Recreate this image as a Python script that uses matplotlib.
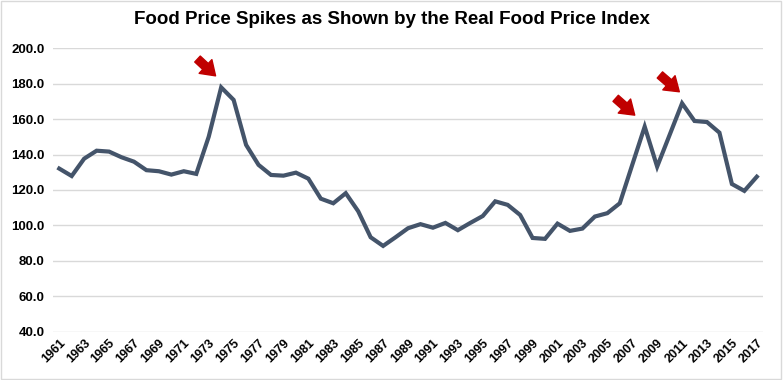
import numpy as np
import matplotlib.pyplot as plt
from matplotlib.patches import Rectangle

# ------------------------------------------------------------
# Data
# ------------------------------------------------------------

years = list(range(1961, 2018))

price_index = [
    132.1, 127.9, 137.7, 142.2, 141.7, 138.5, 136.0, 131.2, 130.6, 128.7,
    130.6, 129.1, 150.1, 178.0, 170.9, 145.5, 134.2, 128.5, 128.1, 129.8,
    126.4, 115.1, 112.5, 118.2, 108.0, 93.3, 88.4, 93.3, 98.4, 100.7,
    98.7, 101.4, 97.3, 101.4, 105.3, 113.6, 111.6, 105.9, 92.9, 92.4,
    101.0, 96.9, 98.2, 105.0, 106.9, 112.5, 134.2, 155.8, 133.2, 151.1,
    169.0, 159.0, 158.4, 152.4, 123.4, 119.5, 127.5,
]

spike_years = [1974, 2008, 2011]
# offsets of arrow tips / tails from each spike point (categories, index units)
tip_dx = [-0.45, -0.8, -0.22]
tail_dx = [-1.9, -2.33, -1.78]

y_ticks = [40, 60, 80, 100, 120, 140, 160, 180, 200]

# ------------------------------------------------------------
# Style
# ------------------------------------------------------------

plt.rcParams["font.family"] = ["Liberation Sans", "DejaVu Sans"]
plt.rcParams["font.weight"] = "bold"

LINE_COLOR = "#44546a"
ARROW_COLOR = "#c00000"
GRID_COLOR = "#d9d9d9"

fig = plt.figure(figsize=(7.83, 3.80), dpi=100)
ax = fig.add_axes([0.0677, 0.1274, 0.9068, 0.7452])

x = np.arange(len(years))

ax.plot(x, price_index, color=LINE_COLOR, linewidth=3.0,
        solid_joinstyle="miter", zorder=3)

# ------------------------------------------------------------
# Axes
# ------------------------------------------------------------

ax.set_xlim(-0.5, len(years) - 0.5)
ax.set_ylim(40, 200)

ax.set_yticks(y_ticks)
ax.set_yticklabels([f"{v:.1f}" for v in y_ticks], fontsize=9.5, fontweight="bold")

ax.set_xticks(x[::2])
ax.set_xticklabels([str(y) for y in years[::2]], rotation=45, ha="right",
                   rotation_mode="anchor", fontsize=9, fontweight="bold")

ax.tick_params(axis="both", length=0, pad=6)
ax.tick_params(axis="x", pad=4)

ax.yaxis.grid(True, color=GRID_COLOR, linewidth=1.0, zorder=0)
ax.set_axisbelow(True)

for side in ["top", "right", "left", "bottom"]:
    ax.spines[side].set_visible(False)

# ------------------------------------------------------------
# Spike arrows
# ------------------------------------------------------------

for year, tdx, sdx in zip(spike_years, tip_dx, tail_dx):
    i = years.index(year)
    v = price_index[i]
    ax.annotate(
        "",
        xy=(i + tdx, v + 6.5),
        xytext=(i + sdx, v + 16.0),
        arrowprops=dict(
            arrowstyle="simple,head_width=1.5,head_length=1.1,tail_width=0.65",
            color=ARROW_COLOR,
            shrinkA=0,
            shrinkB=0,
            mutation_scale=9,
        ),
        annotation_clip=False,
    )

# ------------------------------------------------------------
# Title and frame
# ------------------------------------------------------------

fig.text(0.5, 0.948, "Food Price Spikes as Shown by the Real Food Price Index",
         ha="center", va="center", fontsize=13.5, fontweight="bold")

fig.patches.append(Rectangle((0.001, 0.002), 0.997, 0.995, transform=fig.transFigure,
                             fill=False, edgecolor=GRID_COLOR, linewidth=1.0))

fig.savefig("out.png", dpi=100)
